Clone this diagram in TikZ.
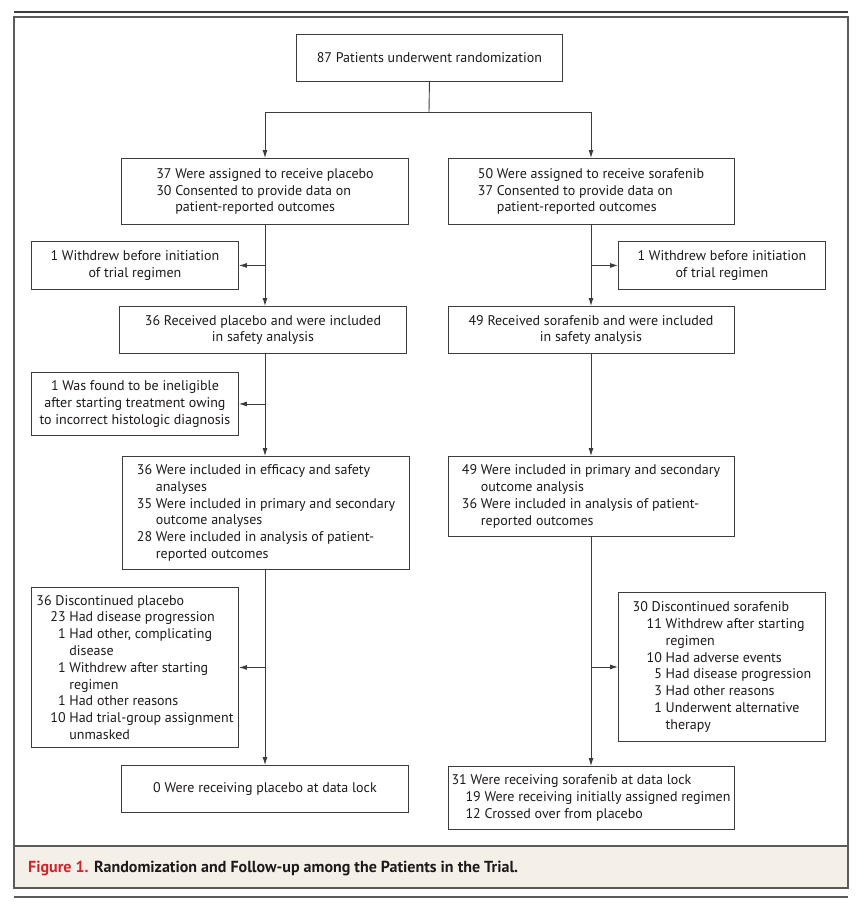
\documentclass[tikz,border=0pt]{standalone}
\usepackage{fontspec}
\setmainfont{PT Sans}
\usetikzlibrary{arrows.meta}
\definecolor{ln}{HTML}{3C3C3C}
\definecolor{frm}{HTML}{5A5A5A}
\definecolor{tx}{HTML}{1E1A1B}
\definecolor{capbg}{HTML}{F4F0E8}
\definecolor{figred}{HTML}{D2232A}
\newcommand\hang{\hphantom{00\ }}
\newcommand\nr[1]{\hphantom{00}\llap{#1}}
\newcommand\ind{\hspace*{14pt}}
\begin{document}
\begin{tikzpicture}[x=1pt,y=-1pt,
  box/.style={draw=ln, line width=0.9pt, text=tx, inner sep=0pt,
    font=\fontsize{14}{16.8}\selectfont, align=left},
  mainl/.style={box, anchor=north, minimum width=287pt},
  mainr/.style={box, anchor=north, minimum width=286pt},
  side/.style={box, anchor=north west, minimum width=207pt},
  conn/.style={draw=ln, line width=0.9pt},
  arr/.style={conn, -{Latex[length=8pt,width=5pt]}}]
\useasboundingbox (0,0) rectangle (864,906);
\fill[white] (0,0) rectangle (864,906);
% frame
\draw[line width=2pt, draw=ln] (14,12) -- (848,12);
\draw[line width=1.6pt, draw=frm] (14,17) rectangle (848,888);
\filldraw[fill=capbg, draw=frm, line width=1.4pt] (14,846) rectangle (848,888);
\draw[line width=1.6pt, draw=frm] (14,897) -- (848,897);
% nodes
\node[box, anchor=north west, minimum width=266pt, minimum height=47pt] (rand) at (296,34)
  {87 Patients underwent randomization};
\node[mainl, minimum height=66pt] (pa) at (265,158)
  {37 Were assigned to receive placebo\\
   30 Consented to provide data on\\
   \hang patient-reported outcomes};
\node[mainr, minimum height=66pt] (sa) at (591,158)
  {50 Were assigned to receive sorafenib\\
   37 Consented to provide data on\\
   \hang patient-reported outcomes};
\node[side, minimum height=48pt, align=center] (lw) at (31,241)
  {1 Withdrew before initiation\\of trial regimen};
\node[side, minimum height=48pt, align=center] (rw) at (618,241)
  {1 Withdrew before initiation\\of trial regimen};
\node[mainl, minimum height=47pt, align=center] (rp) at (263,306)
  {36 Received placebo and were included\\in safety analysis};
\node[mainr, minimum height=47pt, align=center] (rs) at (591,306)
  {49 Received sorafenib and were included\\in safety analysis};
\node[side, minimum height=63pt, align=center] (inel) at (31,372)
  {1 Was found to be ineligible\\after starting treatment owing\\to incorrect histologic diagnosis};
\node[mainl, minimum height=113pt] (le) at (266,456)
  {36 Were included in efficacy and safety\\
   \hang analyses\\
   35 Were included in primary and secondary\\
   \hang outcome analyses\\
   28 Were included in analysis of patient-\\
   \hang reported outcomes};
\node[mainr, minimum height=80pt] (re) at (591,456)
  {49 Were included in primary and secondary\\
   \hang outcome analysis\\
   36 Were included in analysis of patient-\\
   \hang reported outcomes};
\node[side, minimum height=160pt] (ld) at (31,587)
  {36 Discontinued placebo\\
   \ind\nr{23} Had disease progression\\
   \ind\nr{1} Had other, complicating\\
   \ind\hang disease\\
   \ind\nr{1} Withdrew after starting\\
   \ind\hang regimen\\
   \ind\nr{1} Had other reasons\\
   \ind\nr{10} Had trial-group assignment\\
   \ind\hang unmasked};
\node[side, minimum height=149pt] (rd) at (618,592)
  {30 Discontinued sorafenib\\
   \ind\nr{11} Withdrew after starting\\
   \ind\hang regimen\\
   \ind\nr{10} Had adverse events\\
   \ind\nr{5} Had disease progression\\
   \ind\nr{3} Had other reasons\\
   \ind\nr{1} Underwent alternative\\
   \ind\hang therapy};
\node[mainl, minimum height=47pt] (lend) at (265,765)
  {0 Were receiving placebo at data lock};
\node[mainr, minimum height=63pt] (rend) at (591,766)
  {31 Were receiving sorafenib at data lock\\
   \ind 19 Were receiving initially assigned regimen\\
   \ind 12 Crossed over from placebo};
\node[anchor=base west, inner sep=0pt, text=tx,
  font=\bfseries\fontsize{16}{18}\selectfont] (cap) at (28,872)
  {\textcolor{figred}{Figure 1.} Randomization and Follow-up among the Patients in the Trial.};
% connectors
\coordinate (split) at (429,112);
\draw[conn] (rand.south) -- (split);
\draw[arr] (split) -| (pa.north);
\draw[arr] (split) -| (sa.north);
\draw[arr] (pa.south) -- (pa.south |- rp.north);
\draw[arr] (sa.south) -- (rs.north);
\draw[arr] (pa.south |- lw.east) -- (lw.east);
\draw[arr] (sa.south |- rw.west) -- (rw.west);
\draw[arr] (pa.south |- rp.south) -- (pa.south |- le.north);
\draw[arr] (pa.south |- inel.east) -- (inel.east);
\draw[arr] (rs.south) -- (re.north);
\draw[arr] (pa.south |- le.south) -- (pa.south |- lend.north);
\draw[arr] (pa.south |- ld.east) -- (ld.east);
\draw[arr] (re.south) -- (rend.north);
\draw[arr] (re.south |- rd.west) -- (rd.west);
\end{tikzpicture}
\end{document}
